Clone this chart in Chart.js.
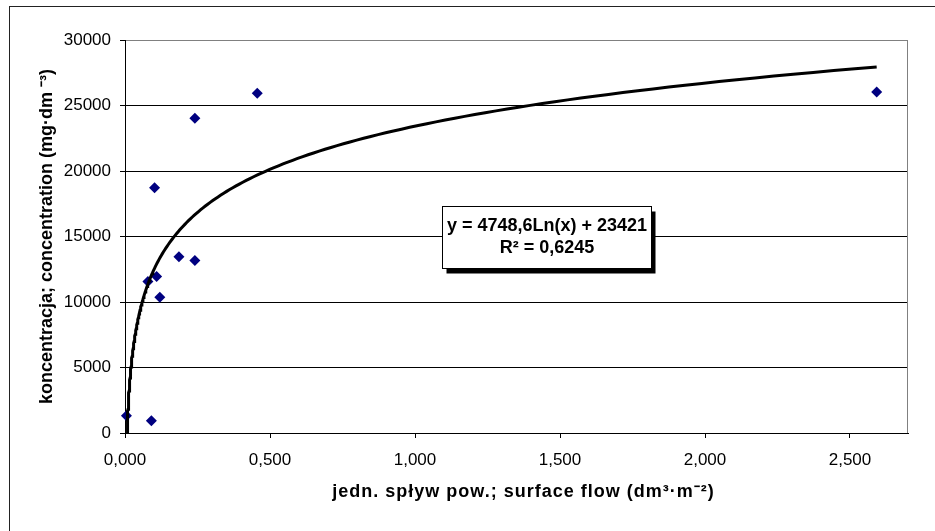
<!DOCTYPE html>
<html>
<head>
<meta charset="utf-8">
<script src="https://cdn.jsdelivr.net/npm/chart.js@4/dist/chart.umd.min.js"></script>
<style>
  html, body { margin: 0; padding: 0; background: #ffffff; }
  #wrap { width: 935px; height: 531px; }
</style>
</head>
<body>
<div id="wrap"><canvas id="c" width="935" height="531"></canvas></div>
<script>
// ---- data ----
const flowX = [0.005, 0.091, 0.079, 0.109, 0.120, 0.186, 0.241, 0.102, 0.241, 0.456, 2.592];
const concY = [1320, 940, 11560, 11940, 10370, 13450, 13170, 18730, 24030, 25930, 26030];

// logarithmic trendline shown in the chart: y = a*ln(x) + b
const trendA = 4748.6;
const trendB = 23421;
const trendLabel = ["y = 4748,6Ln(x) + 23421", "R\u00B2 = 0,6245"];

const yTicks = [0, 5000, 10000, 15000, 20000, 25000, 30000];
const xTicks = [0, 0.5, 1.0, 1.5, 2.0, 2.5];

const xTitle = "jedn. spływ pow.; surface flow (dm\u00B3\u00B7m\u207B\u00B2)";
const yTitle = "koncentracja; concentration (mg\u00B7dm \u207B\u00B3)";

// ---- build trendline points (from the trendline equation) ----
const xStart = Math.exp(-trendB / trendA);
const xEnd = Math.max(...flowX);
const trendPts = [];
const N = 200;
for (let i = 0; i <= N; i++) {
  const t = i / N;
  const x = xStart * Math.pow(xEnd / xStart, t);
  trendPts.push({ x: x, y: trendA * Math.log(x) + trendB });
}

const scatterPts = flowX.map((x, i) => ({ x: x, y: concY[i] }));

const FONT = "'Liberation Sans', Arial, sans-serif";

const decorPlugin = {
  id: 'decor',
  beforeDraw(chart) {
    const ctx = chart.ctx;
    ctx.save();
    ctx.fillStyle = '#ffffff';
    ctx.fillRect(0, 0, chart.width, chart.height);
    ctx.strokeStyle = '#222222';
    ctx.lineWidth = 1;
    ctx.strokeRect(9.5, 6.5, chart.width + 10, chart.height + 10);
    ctx.restore();
  },
  afterDraw(chart) {
    const ctx = chart.ctx;
    const a = chart.chartArea;
    ctx.save();
    // right plot border (grey)
    ctx.strokeStyle = '#808080';
    ctx.lineWidth = 1;
    ctx.beginPath();
    ctx.moveTo(Math.round(a.right) - 0.5, a.top);
    ctx.lineTo(Math.round(a.right) - 0.5, a.bottom);
    ctx.stroke();

    // x axis title (Excel-style wider letter spacing)
    ctx.fillStyle = '#000000';
    ctx.font = "bold 18px " + FONT;
    ctx.textAlign = 'center';
    ctx.textBaseline = 'middle';
    if ('letterSpacing' in ctx) ctx.letterSpacing = '1px';
    ctx.fillText(xTitle, (a.left + a.right) / 2 + 7, 492);
    if ('letterSpacing' in ctx) ctx.letterSpacing = '0px';

    // equation label box
    const w = a.right - a.left, h = a.bottom - a.top;
    const bx = Math.round(a.left + 0.405 * w) + 0.5;
    const by = Math.round(a.top + 0.4216 * h) + 0.5;
    const bw = 209, bh = 62;
    ctx.fillStyle = '#000000';
    ctx.fillRect(bx + 4, by + 5, bw, bh);
    ctx.fillStyle = '#ffffff';
    ctx.fillRect(bx, by, bw, bh);
    ctx.strokeStyle = '#000000';
    ctx.strokeRect(bx, by, bw, bh);
    ctx.fillStyle = '#000000';
    ctx.font = "bold 18px " + FONT;
    ctx.textAlign = 'center';
    ctx.textBaseline = 'middle';
    ctx.fillText(trendLabel[0], bx + bw / 2, by + 19.5);
    ctx.fillText(trendLabel[1], bx + bw / 2, by + 42);
    ctx.restore();
  }
};

new Chart(document.getElementById('c'), {
  type: 'scatter',
  data: {
    datasets: [
      {
        label: 'trend',
        type: 'line',
        data: trendPts,
        borderColor: '#000000',
        borderWidth: 3,
        pointRadius: 0,
        fill: false,
        tension: 0,
        order: 0
      },
      {
        label: 'data',
        data: scatterPts,
        pointStyle: 'rectRot',
        pointRadius: 5.5,
        pointHoverRadius: 5.5,
        backgroundColor: '#000080',
        borderColor: '#000080',
        borderWidth: 0,
        clip: false,
        order: 1
      }
    ]
  },
  options: {
    responsive: false,
    devicePixelRatio: 1,
    animation: false,
    events: [],
    layout: { padding: { left: 0, top: 40, right: 27, bottom: 0 } },
    plugins: {
      legend: { display: false },
      tooltip: { enabled: false }
    },
    scales: {
      x: {
        type: 'linear',
        min: 0,
        max: 2.7,
        afterBuildTicks(scale) { scale.ticks = xTicks.map(v => ({ value: v })); },
        afterFit(scale) { scale.height = 98; scale.paddingLeft = 0; scale.paddingRight = 0; },
        ticks: {
          color: '#000000',
          font: { family: FONT, size: 17 },
          padding: 12,
          maxRotation: 0,
          autoSkip: false,
          callback: v => Number(v).toFixed(3).replace('.', ',')
        },
        grid: {
          drawOnChartArea: false,
          drawTicks: true,
          tickLength: 5,
          color: '#000000',
          tickColor: '#000000'
        },
        border: { display: true, color: '#000000', width: 1 },
        title: { display: false, text: xTitle }
      },
      y: {
        type: 'linear',
        min: 0,
        max: 30000,
        afterBuildTicks(scale) { scale.ticks = yTicks.map(v => ({ value: v })); },
        afterFit(scale) { scale.width = 125; scale.paddingTop = 0; scale.paddingBottom = 0; },
        ticks: {
          color: '#000000',
          font: { family: FONT, size: 17 },
          padding: 9,
          autoSkip: false,
          callback: v => String(v)
        },
        grid: {
          drawTicks: true,
          tickLength: 5,
          color: ctx => (ctx.tick && ctx.tick.value === 30000) ? '#808080' : '#000000',
          tickColor: '#000000'
        },
        border: { display: true, color: '#000000', width: 1 },
        title: {
          display: true,
          text: yTitle,
          color: '#000000',
          font: { family: FONT, size: 18, weight: 'bold' },
          padding: { top: 36, bottom: 0 }
        }
      }
    }
  },
  plugins: [decorPlugin]
});
</script>
</body>
</html>
